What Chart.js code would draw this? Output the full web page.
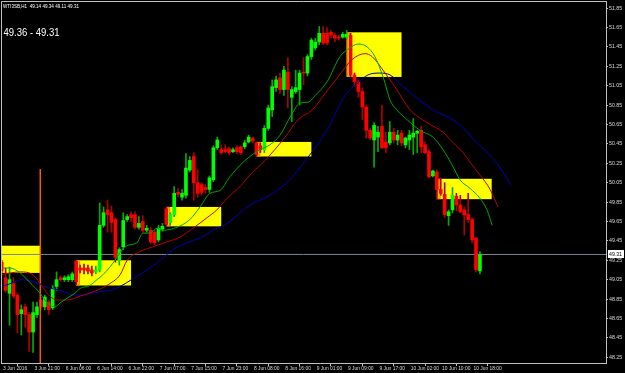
<!DOCTYPE html>
<html lang="en">
<head>
    <meta charset="UTF-8">
    <title>WTI3SB,H1</title>
    <script src="https://cdn.jsdelivr.net/npm/chart.js"></script>
    <style>
        html, body {
            margin: 0;
            padding: 0;
            background: #000;
        }
        #wrap {
            width: 625px;
            height: 373px;
        }
    </style>
</head>
<body>
    <div id="wrap"><canvas id="chart" width="625" height="373"></canvas></div>
    <script>
        // hourly candles, bar index 0 = 3 Jun 2016 (prices)
        const opens = [
            49.23, 49.07, 48.91, 49.01, 48.89, 48.70, 48.77, 48.69, 48.51, 48.69,
            48.84, 48.77, 48.82, 48.76, 48.98, 49.07, 49.05, 49.05, 49.05, 49.24,
            49.17, 49.17, 49.17, 49.15, 49.13, 49.15, 49.61, 49.77, 49.74, 49.67,
            49.25, 49.39, 49.67, 49.72, 49.72, 49.59, 49.65, 49.56, 49.56, 49.54,
            49.46, 49.57, 49.78, 49.64, 49.72, 49.95, 49.90, 49.92, 50.18, 50.32,
            50.05, 50.03, 50.00, 49.98, 50.08, 50.41, 50.39, 50.39, 50.40, 50.37,
            50.41, 50.42, 50.42, 50.47, 50.51, 50.46, 50.43, 50.39, 50.61, 50.80,
            51.03, 51.13, 51.01, 51.19, 50.93, 50.99, 51.01, 51.19, 51.18, 51.35,
            51.44, 51.50, 51.59, 51.59, 51.60, 51.57, 51.55, 51.55, 51.55, 51.57,
            51.16, 51.09, 50.99, 50.83, 50.59, 50.49, 50.52, 50.63, 50.47, 50.46,
            50.57, 50.49, 50.56, 50.44, 50.49, 50.52, 50.56, 50.59, 50.44, 50.37,
            50.12, 50.16, 49.98, 49.93, 49.71, 49.77, 49.91, 49.82, 49.77, 49.72,
            49.67, 49.48, 49.14
        ];
        const highs = [
            49.25, 49.17, 49.18, 49.07, 48.91, 48.79, 48.80, 48.71, 48.82, 48.82,
            48.87, 48.89, 48.84, 48.99, 49.13, 49.09, 49.09, 49.10, 49.13, 49.25,
            49.20, 49.21, 49.20, 49.19, 49.19, 49.84, 49.80, 49.87, 49.81, 49.69,
            49.38, 49.74, 49.72, 49.75, 49.75, 49.70, 49.71, 49.61, 49.59, 49.56,
            49.61, 49.63, 49.80, 49.74, 50.01, 49.99, 49.98, 50.35, 50.32, 50.36,
            50.18, 50.05, 50.03, 50.12, 50.43, 50.52, 50.44, 50.44, 50.42, 50.41,
            50.43, 50.43, 50.49, 50.54, 50.52, 50.47, 50.46, 50.64, 50.85, 51.11,
            51.15, 51.18, 51.25, 51.34, 51.04, 51.21, 51.21, 51.34, 51.37, 51.54,
            51.54, 51.66, 51.66, 51.65, 51.62, 51.59, 51.57, 51.60, 51.62, 51.59,
            51.18, 51.11, 51.03, 50.85, 50.61, 50.67, 50.63, 50.85, 50.57, 50.68,
            50.61, 50.59, 50.59, 50.52, 50.59, 50.71, 50.59, 50.63, 50.47, 50.39,
            50.18, 50.18, 50.10, 50.05, 49.77, 50.00, 49.94, 49.92, 49.80, 49.94,
            49.69, 49.48, 49.34
        ];
        const lows = [
            49.12, 48.92, 48.58, 48.86, 48.50, 48.48, 48.56, 48.31, 48.30, 48.66,
            48.74, 48.74, 48.69, 48.74, 48.94, 49.03, 49.03, 49.03, 49.03, 49.00,
            49.12, 49.11, 49.11, 49.09, 49.11, 49.13, 49.59, 49.54, 49.54, 49.23,
            49.20, 49.36, 49.65, 49.65, 49.57, 49.57, 49.54, 49.54, 49.42, 49.41,
            49.44, 49.55, 49.60, 49.61, 49.70, 49.90, 49.87, 49.89, 50.16, 49.87,
            49.90, 49.92, 49.94, 49.95, 50.06, 50.39, 50.34, 50.36, 50.34, 50.36,
            50.35, 50.34, 50.40, 50.46, 50.46, 50.32, 50.36, 50.36, 50.59, 50.73,
            50.99, 50.97, 50.95, 50.82, 50.68, 50.97, 50.85, 51.06, 51.15, 51.32,
            51.42, 51.47, 51.47, 51.47, 51.54, 51.50, 51.52, 51.54, 51.53, 51.14,
            51.04, 50.93, 50.70, 50.51, 50.49, 50.21, 50.37, 50.40, 50.36, 50.44,
            50.46, 50.44, 50.43, 50.41, 50.39, 50.34, 50.36, 50.36, 50.35, 50.10,
            50.11, 49.88, 49.92, 49.69, 49.61, 49.74, 49.76, 49.74, 49.51, 49.64,
            49.43, 49.13, 49.11
        ];
        const closes = [
            49.14, 48.94, 49.05, 48.88, 48.69, 48.74, 48.69, 48.51, 48.71, 48.77,
            48.77, 48.87, 48.74, 48.96, 49.05, 49.05, 49.07, 49.08, 49.11, 49.03,
            49.15, 49.15, 49.14, 49.12, 49.15, 49.61, 49.74, 49.72, 49.64, 49.28,
            49.36, 49.66, 49.70, 49.69, 49.59, 49.63, 49.56, 49.58, 49.44, 49.43,
            49.58, 49.60, 49.62, 49.72, 49.94, 49.93, 49.94, 50.20, 50.28, 50.05,
            49.94, 49.95, 49.98, 50.10, 50.41, 50.49, 50.36, 50.37, 50.36, 50.39,
            50.37, 50.36, 50.46, 50.52, 50.48, 50.34, 50.39, 50.61, 50.82, 51.04,
            51.11, 51.01, 51.21, 51.01, 51.01, 51.03, 51.18, 51.18, 51.35, 51.52,
            51.50, 51.59, 51.49, 51.49, 51.57, 51.54, 51.54, 51.58, 51.58, 51.16,
            51.09, 50.99, 50.83, 50.59, 50.51, 50.64, 50.57, 50.41, 50.41, 50.57,
            50.49, 50.54, 50.46, 50.51, 50.54, 50.56, 50.58, 50.42, 50.36, 50.11,
            50.17, 49.98, 49.94, 49.72, 49.75, 49.92, 49.82, 49.75, 49.72, 49.67,
            49.46, 49.15, 49.31
        ];

        // alligator lines, read as [bar index, price]
        const lipsGreen = [
            [0.1, 49.17], [2.1, 49.17], [4.7, 49.12], [7.2, 49.02], [9.8, 48.91], [11, 48.84],
            [12.3, 48.79], [13.6, 48.77], [14.9, 48.81], [16.7, 48.86], [18.7, 48.91], [20, 48.96],
            [22.5, 48.99], [24.3, 49.05], [25.8, 49.10], [27.6, 49.18], [28.9, 49.25], [30.2, 49.33],
            [31.5, 49.39], [32.7, 49.41], [34.5, 49.43], [36, 49.53], [37.8, 49.53], [39.6, 49.58],
            [41.1, 49.56], [44.7, 49.59], [48, 49.67], [50.6, 49.80], [53.1, 49.94], [55.7, 49.97],
            [58.2, 50.11], [60.8, 50.23], [63.3, 50.32], [65.9, 50.39], [68.4, 50.44], [71, 50.54],
            [73.5, 50.72], [76.1, 50.87], [78.2, 50.88], [80, 50.95], [83, 51.09], [86.3, 51.35],
            [88.9, 51.44], [90.9, 51.48], [93.2, 51.45], [95.2, 51.35], [97.3, 51.14], [99.1, 50.90],
            [100.8, 50.80], [103.4, 50.70], [106.7, 50.59], [110, 50.52], [112.6, 50.39], [115.2, 50.21],
            [116.9, 50.08], [119.5, 49.99], [122, 49.89], [123.8, 49.77], [125.1, 49.61]
        ];
        const teethRed = [
            [-0.4, 49.10], [4.7, 49.13], [8, 49.10], [10.5, 48.97], [12.3, 48.88], [14.1, 48.84],
            [16.7, 48.84], [20, 48.88], [24.3, 48.94], [27.6, 49.01], [30.2, 49.10], [32, 49.25],
            [35.3, 49.34], [38.6, 49.39], [42.2, 49.44], [45.5, 49.49], [48.8, 49.58], [52.4, 49.69],
            [54.9, 49.77], [57.5, 49.89], [60.8, 50.01], [63.3, 50.13], [67.2, 50.28], [72.3, 50.52],
            [75.6, 50.70], [79.2, 50.80], [82.5, 50.97], [85.8, 51.14], [89.4, 51.32], [92.7, 51.38],
            [94.5, 51.35], [97.8, 51.18], [100.3, 51.04], [104.2, 50.80], [108.5, 50.67], [112.6, 50.57],
            [115.2, 50.46], [117.7, 50.36], [119.5, 50.26], [122, 50.13], [124.6, 49.98], [126.6, 49.80]
        ];
        const jawBlue = [
            [-0.4, 48.97], [2.9, 49.02], [5.4, 49.05], [8, 49.03], [11.6, 48.97], [14.9, 48.94],
            [17.4, 48.90], [20, 48.89], [24.3, 48.92], [27.6, 48.94], [30.2, 48.98], [33.5, 49.06],
            [37.1, 49.15], [40.4, 49.25], [43.7, 49.36], [47.3, 49.43], [50.6, 49.48], [53.9, 49.56],
            [57.5, 49.63], [60.8, 49.74], [63.3, 49.82], [68.4, 49.92], [73.5, 50.08], [77.9, 50.30],
            [83, 50.59], [87.6, 50.95], [90.9, 51.08], [93.4, 51.16], [96.5, 51.18], [99.1, 51.16],
            [102.4, 51.04], [106.7, 50.90], [110, 50.80], [116.2, 50.67], [121.3, 50.46], [125.3, 50.30],
            [127.9, 50.16], [129.9, 50.02]
        ];

        // yellow boxes: [first bar, last bar, top price, bottom price]; the first bar gets an orange frame
        const boxes = [
            [-4, 9.8, 49.40, 49.12],
            [19, 33, 49.25, 48.99],
            [42, 56, 49.80, 49.60],
            [65, 79, 50.47, 50.32],
            [88, 102, 51.60, 51.14],
            [111, 125, 50.09, 49.88]
        ];
        const bidPrice = 49.31;
        const vLine = [9.85, 50.19];   // bar index, top price of the orange line

        const yTicks = [48.25, 48.45, 48.65, 48.85, 49.05, 49.25, 49.45, 49.65, 49.85,
                        50.05, 50.25, 50.45, 50.65, 50.85, 51.05, 51.25, 51.45, 51.65, 51.85];
        const xTickIdx = [0, 8, 16, 24, 32, 40, 48, 56, 64, 72, 80, 88, 96, 104, 112, 120];
        const xTickLabels = ['3 Jun 2016', '3 Jun 21:00', '6 Jun 06:00', '6 Jun 14:00', '6 Jun 22:00',
            '7 Jun 07:00', '7 Jun 15:00', '7 Jun 23:00', '8 Jun 08:00', '8 Jun 16:00', '9 Jun 01:00',
            '9 Jun 09:00', '9 Jun 17:00', '10 Jun 02:00', '10 Jun 10:00', '10 Jun 18:00'];
        const headerText = 'WTI3SB,H1  49.14 49.34 49.11 49.31';
        const rangeText = '49.36 - 49.31';

        const axisColor = '#c0c0c0';
        const bull = '#00ff00', bear = '#ff0000';
        const bullWick = '#00b000', bearWick = '#b00000';

        const up = closes.map((c, i) => c >= opens[i]);

        const boxPlugin = {
            id: 'boxes',
            beforeDatasetsDraw(chart) {
                const {ctx, chartArea: a, scales: {x, y}} = chart;
                ctx.save();
                ctx.beginPath();
                ctx.rect(a.left, a.top, a.right - a.left, a.bottom - a.top);
                ctx.clip();
                boxes.forEach(b => {
                    const x0 = x.getPixelForValue(b[0]), x1 = x.getPixelForValue(b[1]);
                    const y0 = y.getPixelForValue(b[2]), y1 = y.getPixelForValue(b[3]);
                    ctx.fillStyle = '#ffff00';
                    ctx.fillRect(x0, y0, x1 - x0, y1 - y0);
                    const xs = x.getPixelForValue(b[0] + 1);
                    ctx.strokeStyle = '#ff8a00';
                    ctx.lineWidth = 1.5;
                    ctx.strokeRect(x0 + 0.75, y0 + 0.75, xs - x0 - 1.5, y1 - y0 - 1.5);
                });
                ctx.restore();
            },
            afterDraw(chart) {
                const {ctx, chartArea: a, scales: {y}} = chart;
                ctx.save();
                // frame on the left and top
                ctx.strokeStyle = axisColor;
                ctx.lineWidth = 1;
                ctx.beginPath();
                ctx.moveTo(a.left + 0.5, a.bottom);
                ctx.lineTo(a.left + 0.5, a.top + 0.5);
                ctx.lineTo(a.right, a.top + 0.5);
                ctx.stroke();
                // texts (squeezed to the width they have in the terminal)
                ctx.fillStyle = '#ffffff';
                ctx.textBaseline = 'alphabetic';
                ctx.font = '6px "Liberation Sans"';
                ctx.fillText(headerText, 3, 8, 76);
                ctx.font = '10px "Liberation Sans"';
                ctx.fillText(rangeText, 3.5, 35.5, 56);
                // bid price label
                const py = Math.round(y.getPixelForValue(bidPrice));
                ctx.fillStyle = '#ffffff';
                ctx.fillRect(a.right + 2, py - 4, 16, 8);
                ctx.fillStyle = '#000000';
                ctx.font = '6px "Liberation Sans"';
                ctx.textBaseline = 'middle';
                ctx.fillText(bidPrice.toFixed(2), a.right + 3, py + 0.5, 13);
                ctx.restore();
            }
        };

        const idx = opens.map((_, i) => i);

        new Chart(document.getElementById('chart'), {
            type: 'bar',
            data: {
                datasets: [
                    {
                        type: 'line',
                        data: lipsGreen.map(p => ({x: p[0], y: p[1]})),
                        borderColor: '#00a800',
                        borderWidth: 1,
                        pointRadius: 0,
                        cubicInterpolationMode: 'monotone',
                        order: 0
                    },
                    {
                        type: 'line',
                        data: teethRed.map(p => ({x: p[0], y: p[1]})),
                        borderColor: '#bc0000',
                        borderWidth: 1,
                        pointRadius: 0,
                        cubicInterpolationMode: 'monotone',
                        order: 0
                    },
                    {
                        type: 'line',
                        data: jawBlue.map(p => ({x: p[0], y: p[1]})),
                        borderColor: '#0000b8',
                        borderWidth: 1,
                        pointRadius: 0,
                        cubicInterpolationMode: 'monotone',
                        order: 0
                    },
                    {
                        type: 'line',
                        data: [{x: vLine[0], y: vLine[1]}, {x: vLine[0], y: 47}],
                        borderColor: '#ff5a00',
                        borderWidth: 1,
                        pointRadius: 0,
                        order: 1
                    },
                    {
                        type: 'line',
                        data: [{x: -10, y: bidPrice}, {x: 200, y: bidPrice}],
                        borderColor: '#7c8590',
                        borderWidth: 1,
                        pointRadius: 0,
                        order: 4
                    },
                    {
                        data: idx.map(i => ({x: i, y: [opens[i], closes[i]]})),
                        backgroundColor: idx.map(i => up[i] ? bull : bear),
                        barThickness: 3,
                        minBarLength: 1,
                        grouped: false,
                        order: 2
                    },
                    {
                        data: idx.map(i => ({x: i, y: [lows[i], highs[i]]})),
                        backgroundColor: idx.map(i => up[i] ? bullWick : bearWick),
                        barThickness: 1,
                        grouped: false,
                        order: 3
                    }
                ]
            },
            options: {
                responsive: false,
                animation: false,
                devicePixelRatio: 1,
                layout: { padding: { left: 1, top: 1, right: 0, bottom: 0 } },
                plugins: { legend: { display: false }, tooltip: { enabled: false } },
                scales: {
                    x: {
                        type: 'linear',
                        min: -0.18,
                        max: 154.16,
                        offset: false,
                        afterBuildTicks: s => { s.ticks = xTickIdx.map(v => ({value: v})); },
                        afterFit: s => { s.height = 10; s.paddingLeft = 0; s.paddingRight = 0; },
                        ticks: {
                            align: 'start',
                            autoSkip: false,
                            maxRotation: 0,
                            padding: 0,
                            color: '#d8d8d8',
                            font: { family: 'Liberation Sans', size: 4.9 },
                            callback: (v, i) => ' ' + xTickLabels[i]
                        },
                        grid: { drawOnChartArea: false, tickLength: 3, color: axisColor },
                        border: { color: axisColor }
                    },
                    y: {
                        position: 'right',
                        min: 48.191,
                        max: 51.923,
                        afterBuildTicks: s => { s.ticks = yTicks.map(v => ({value: v})); },
                        afterFit: s => { s.width = 19; s.paddingTop = 0; s.paddingBottom = 0; },
                        ticks: {
                            padding: 1,
                            color: '#d8d8d8',
                            font: { family: 'Liberation Sans', size: 5.3 },
                            callback: v => v.toFixed(2)
                        },
                        grid: { drawOnChartArea: false, tickLength: 2, color: axisColor },
                        border: { color: axisColor }
                    }
                }
            },
            plugins: [boxPlugin]
        });
    </script>
</body>
</html>
